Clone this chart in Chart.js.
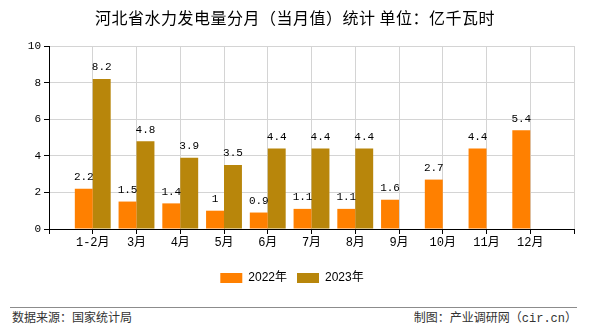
<!DOCTYPE html>
<html>
<head>
<meta charset="utf-8">
<script src="https://cdn.jsdelivr.net/npm/chart.js@4.4.0/dist/chart.umd.min.js"></script>
<style>
    html, body { margin: 0; padding: 0; background: #fff; }
    #wrap  { position: relative; width: 590px; height: 330px; }
    #chart { position: absolute; left: 0; top: 0; }
    #title { position: absolute; left: 0; top: 5px; width: 590px; text-align: center; letter-spacing: 0.5px;
             font: 16px "Noto Sans CJK SC", sans-serif; color: #000; }
    #rule  { position: absolute; left: 10px; top: 307px; width: 567px; border-top: 1px solid #8c8c8c; }
    .foot  { position: absolute; top: 308px; font: 12px "Liberation Mono", "Noto Sans CJK SC", monospace; color: #333; }
    #src   { left: 12px; }
    #by    { right: 13px; }
</style>
</head>
<body>
<div id="wrap">
    <canvas id="chart" width="590" height="300"></canvas>
    <div id="title">河北省水力发电量分月（当月值）统计 单位：亿千瓦时</div>
    <div id="rule"></div>
    <div class="foot" id="src">数据来源：国家统计局</div>
    <div class="foot" id="by">制图：产业调研网（cir.cn）</div>
</div>
<script>
// ---- data ----
const categories = ["1-2月", "3月", "4月", "5月", "6月", "7月", "8月", "9月", "10月", "11月", "12月"];
const values2022 = [2.2, 1.5, 1.4, 1, 0.9, 1.1, 1.1, 1.6, 2.7, 4.4, 5.4];
const values2023 = [8.2, 4.8, 3.9, 3.5, 4.4, 4.4, 4.4, null, null, null, null];
const yTicks     = [0, 2, 4, 6, 8, 10];

// one empty slot before and after the months, like the original grid
const labels = ["", ...categories, ""];
const pad = arr => [null, ...arr, null];

const monoFont = '"Liberation Mono", "Noto Sans CJK SC", monospace';

// value labels above bars
const barLabels = {
    id: "barLabels",
    afterDatasetsDraw(chart) {
        const ctx = chart.ctx;
        ctx.save();
        ctx.font = "11px " + monoFont;
        ctx.fillStyle = "#000";
        ctx.textAlign = "center";
        ctx.textBaseline = "bottom";
        chart.data.datasets.forEach((ds, i) => {
            chart.getDatasetMeta(i).data.forEach((el, j) => {
                const v = ds.data[j];
                if (v == null) return;
                ctx.fillText(String(v), el.x, el.y - 6);
            });
        });
        ctx.restore();
    }
};

new Chart(document.getElementById("chart"), {
    type: "bar",
    data: {
        labels: labels,
        datasets: [
            { label: "2022年", data: pad(values2022), backgroundColor: "#ff8000" },
            { label: "2023年", data: pad(values2023), backgroundColor: "#b8860b" }
        ]
    },
    options: {
        responsive: false,
        animation: false,
        layout: { padding: { top: 46, left: 10, right: 16, bottom: 6 } },
        datasets: { bar: { categoryPercentage: 0.82, barPercentage: 1 } },
        plugins: {
            legend: {
                position: "bottom",
                labels: {
                    boxWidth: 22, boxHeight: 10, padding: 10, color: "#000",
                    font: { size: 12, family: '"Liberation Sans", "Noto Sans CJK SC", sans-serif' }
                }
            },
            tooltip: { enabled: false }
        },
        scales: {
            x: {
                offset: false,
                afterFit: s => { s.height = 33; },
                grid:   { color: "#d4d4d4", tickColor: "#000", tickLength: 5, offset: false },
                border: { color: "#000" },
                ticks:  { color: "#000", padding: 2, maxRotation: 0, autoSkip: false,
                          font: { size: 12, family: monoFont } }
            },
            y: {
                min: yTicks[0],
                max: yTicks[yTicks.length - 1],
                afterFit: s => { s.width = 39; },
                afterBuildTicks: s => { s.ticks = yTicks.map(v => ({ value: v })); },
                grid:   { color: "#d4d4d4", tickColor: "#000", tickLength: 5 },
                border: { color: "#000" },
                ticks:  { color: "#000", padding: 3, font: { size: 11, family: monoFont } }
            }
        }
    },
    plugins: [barLabels]
});
</script>
</body>
</html>
